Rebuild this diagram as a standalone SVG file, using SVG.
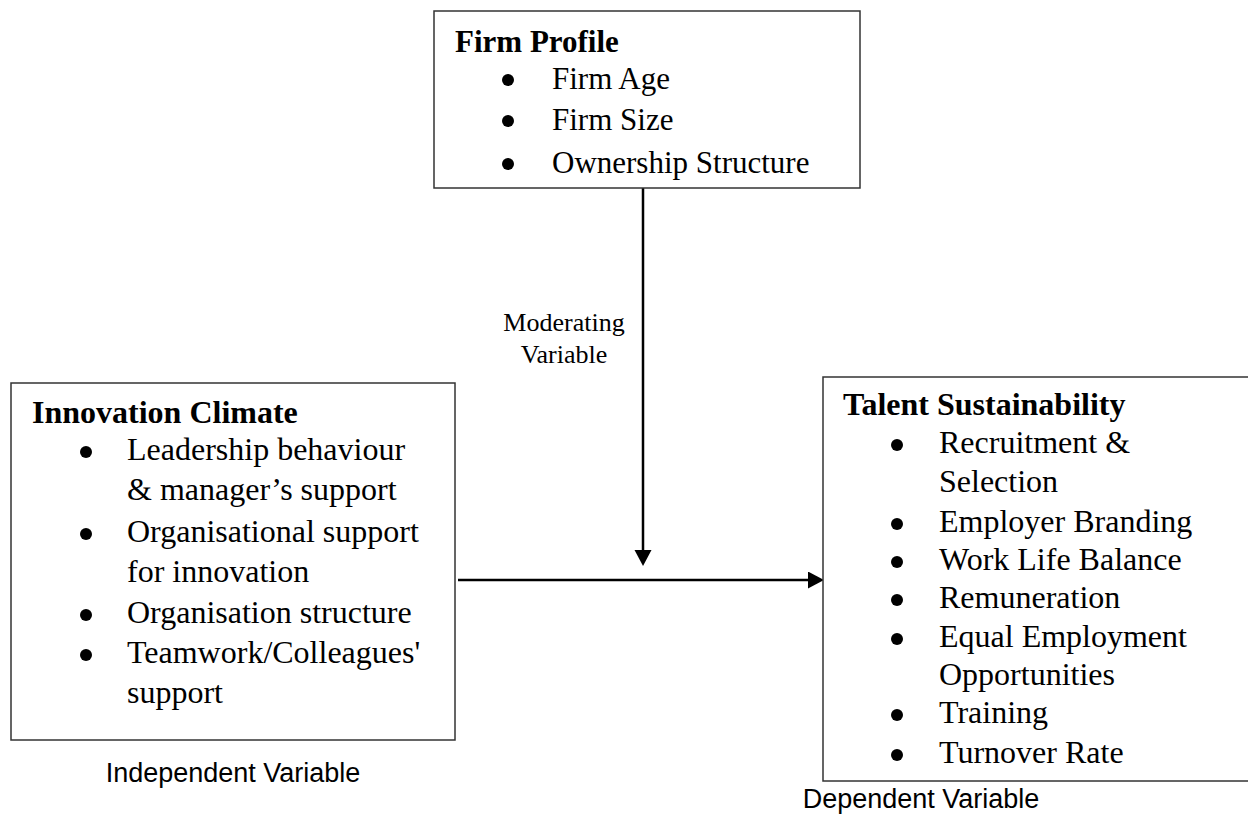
<svg xmlns="http://www.w3.org/2000/svg" width="1248" height="814" viewBox="0 0 1248 814">
  <style>
    .box { fill: #ffffff; stroke: #333333; stroke-width: 1.5; }
    .title { font-family: "Liberation Serif", "Times New Roman", serif; font-size: 32px; font-weight: bold; fill: #000000; }
    .item { font-family: "Liberation Serif", "Times New Roman", serif; font-size: 32px; fill: #000000; }
    .sm { font-size: 31px; }
    .mod { font-family: "Liberation Serif", "Times New Roman", serif; font-size: 26px; fill: #000000; text-anchor: middle; }
    .cap { font-family: "Liberation Sans", Arial, sans-serif; font-size: 27px; fill: #000000; text-anchor: middle; }
    .bullet { fill: #000000; }
    .conn { stroke: #000000; stroke-width: 2.5; fill: none; }
  </style>
  <defs>
    <marker id="arrow" markerUnits="userSpaceOnUse" markerWidth="18" markerHeight="18" refX="2" refY="8.5" orient="auto">
      <path d="M0,0 L16,8.5 L0,17 Z" fill="#000000"/>
    </marker>
  </defs>
  <rect width="1248" height="814" fill="#ffffff"/>

  <g id="connectors">
    <line class="conn" x1="643" y1="188" x2="643" y2="552" marker-end="url(#arrow)"/>
    <line class="conn" x1="458" y1="580" x2="810" y2="580" marker-end="url(#arrow)"/>
    <text class="mod" x="564" y="331">Moderating</text>
    <text class="mod" x="564" y="363">Variable</text>
  </g>

  <g id="firm-profile">
    <rect class="box" x="434" y="11" width="426" height="177"/>
    <text class="title sm" x="455" y="52">Firm Profile</text>
    <circle class="bullet" cx="508" cy="80" r="6"/>
    <text class="item sm" x="552" y="89">Firm Age</text>
    <circle class="bullet" cx="508" cy="121" r="6"/>
    <text class="item sm" x="552" y="130">Firm Size</text>
    <circle class="bullet" cx="508" cy="164" r="6"/>
    <text class="item sm" x="552" y="173">Ownership Structure</text>
  </g>

  <g id="innovation-climate">
    <rect class="box" x="11" y="383" width="444" height="357"/>
    <text class="title" x="32" y="423">Innovation Climate</text>
    <circle class="bullet" cx="86" cy="452" r="6"/>
    <text class="item" x="127" y="460">Leadership behaviour</text>
    <text class="item" x="127" y="500">&amp; manager’s support</text>
    <circle class="bullet" cx="86" cy="534" r="6"/>
    <text class="item" x="127" y="542">Organisational support</text>
    <text class="item" x="127" y="582">for innovation</text>
    <circle class="bullet" cx="86" cy="615" r="6"/>
    <text class="item" x="127" y="623">Organisation structure</text>
    <circle class="bullet" cx="86" cy="655" r="6"/>
    <text class="item" x="127" y="663">Teamwork/Colleagues'</text>
    <text class="item" x="127" y="703">support</text>
  </g>
  <text class="cap" x="233" y="782">Independent Variable</text>

  <g id="talent-sustainability">
    <rect class="box" x="823" y="377" width="430" height="404"/>
    <text class="title" x="843" y="415">Talent Sustainability</text>
    <circle class="bullet" cx="897" cy="445" r="6"/>
    <text class="item" x="939" y="453">Recruitment &amp;</text>
    <text class="item" x="939" y="492">Selection</text>
    <circle class="bullet" cx="897" cy="524" r="6"/>
    <text class="item" x="939" y="532">Employer Branding</text>
    <circle class="bullet" cx="897" cy="562" r="6"/>
    <text class="item" x="939" y="570">Work Life Balance</text>
    <circle class="bullet" cx="897" cy="600" r="6"/>
    <text class="item" x="939" y="608">Remuneration</text>
    <circle class="bullet" cx="897" cy="639" r="6"/>
    <text class="item" x="939" y="647">Equal Employment</text>
    <text class="item" x="939" y="685">Opportunities</text>
    <circle class="bullet" cx="897" cy="715" r="6"/>
    <text class="item" x="939" y="723">Training</text>
    <circle class="bullet" cx="897" cy="755" r="6"/>
    <text class="item" x="939" y="763">Turnover Rate</text>
  </g>
  <text class="cap" x="921" y="808">Dependent Variable</text>
</svg>
